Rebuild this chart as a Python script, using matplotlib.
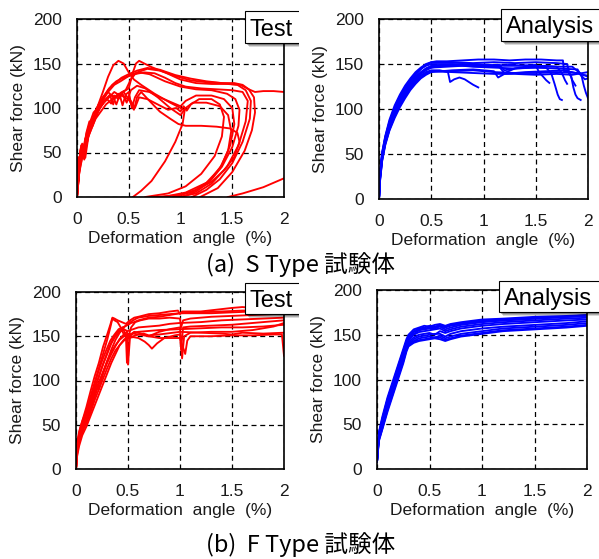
import matplotlib
matplotlib.use("Agg")
import matplotlib.pyplot as plt
from matplotlib.patches import Rectangle
from matplotlib.transforms import Bbox, TransformedBbox

plt.rcParams['font.family'] = ['Liberation Sans', 'DejaVu Sans']

x_ticks = [0, 0.5, 1, 1.5, 2]
x_tick_labels = ['0', '0.5', '1', '1.5', '2']
y_ticks = [0, 50, 100, 150, 200]

# S type, test results (x: deformation angle %, y: shear force kN)
s_test = [
    ([0, 0.01, 0.015, 0.03, 0.05, 0.06, 0.09, 0.12, 0.15, 0.2, 0.25, 0.3, 0.35, 0.4, 0.45, 0.5, 0.55, 0.62, 0.75, 0.9, 1.0, 1.04, 1.02, 0.95, 0.85, 0.72, 0.62, 0.54],
     [0, 30, 18, 52, 60, 48, 72, 85, 80, 102, 118, 135, 148, 153, 150, 140, 132, 126, 116, 106, 100, 97, 82, 62, 40, 18, 7, 0]),
    ([0, 0.02, 0.03, 0.04, 0.07, 0.08, 0.11, 0.15, 0.2, 0.26, 0.32, 0.38, 0.44, 0.5, 0.54, 0.57, 0.6, 0.65, 0.72, 0.85, 1.0, 1.15, 1.3, 1.45, 1.58, 1.66, 1.71, 1.72, 1.69, 1.62, 1.5, 1.36, 1.19],
     [0, 25, 40, 45, 58, 44, 68, 80, 95, 108, 115, 112, 118, 122, 140, 150, 153, 150, 146, 140, 132, 128, 127, 127, 126, 121, 112, 95, 75, 52, 28, 10, 0]),
    ([0, 0.02, 0.05, 0.07, 0.1, 0.13, 0.18, 0.23, 0.3, 0.36, 0.42, 0.5, 0.58, 0.68, 0.8, 0.95, 1.1, 1.25, 1.4, 1.55, 1.63, 1.68, 1.67, 1.6, 1.5, 1.38, 1.25, 1.11],
     [0, 35, 50, 42, 65, 78, 92, 105, 118, 126, 130, 136, 140, 144, 142, 136, 131, 129, 128, 126, 120, 108, 88, 62, 38, 20, 8, 0]),
    ([0, 0.02, 0.04, 0.06, 0.09, 0.12, 0.16, 0.2, 0.25, 0.3, 0.35, 0.38, 0.42, 0.47, 0.52, 0.56, 0.6, 0.7, 0.85, 1.0, 1.15, 1.3, 1.45, 1.53, 1.57, 1.56, 1.5, 1.4, 1.28, 1.15, 1.01],
     [0, 40, 55, 50, 70, 82, 95, 100, 112, 118, 112, 104, 117, 120, 132, 138, 140, 138, 130, 124, 121, 120, 116, 110, 98, 80, 56, 34, 17, 6, 0]),
    ([0, 0.02, 0.05, 0.08, 0.11, 0.14, 0.18, 0.22, 0.27, 0.32, 0.35, 0.37, 0.41, 0.44, 0.47, 0.5, 0.53, 0.56, 0.6, 0.7, 0.8, 0.92, 1.0, 1.05, 1.15, 1.3, 1.42, 1.5, 1.52, 1.48, 1.4, 1.28, 1.12, 0.93],
     [0, 28, 45, 60, 72, 85, 90, 100, 108, 114, 104, 112, 116, 103, 115, 118, 100, 112, 120, 118, 112, 106, 102, 108, 114, 114, 110, 100, 82, 58, 36, 18, 6, 0]),
    ([0, 0.03, 0.06, 0.1, 0.14, 0.19, 0.24, 0.29, 0.33, 0.36, 0.4, 0.44, 0.48, 0.52, 0.58, 0.66, 0.78, 0.9, 1.0, 1.05, 1.12, 1.25, 1.38, 1.46, 1.49, 1.46, 1.38, 1.25, 1.05, 0.83],
     [0, 38, 55, 68, 80, 95, 104, 110, 105, 114, 110, 116, 106, 120, 125, 122, 112, 100, 92, 100, 106, 106, 102, 92, 74, 52, 32, 16, 5, 0]),
    ([0, 0.02, 0.05, 0.08, 0.12, 0.16, 0.21, 0.26, 0.31, 0.36, 0.4, 0.45, 0.5, 0.55, 0.58, 0.62, 0.7, 0.8, 0.9, 0.98, 1.05, 1.2, 1.35, 1.48, 1.55, 1.57, 1.52, 1.42, 1.3, 1.15, 0.98, 0.74],
     [0, 30, 48, 62, 76, 88, 98, 106, 112, 118, 115, 118, 110, 98, 112, 118, 108, 96, 88, 82, 80, 80, 79, 77, 72, 62, 45, 30, 17, 8, 2, 0]),
    ([0, 0.02, 0.04, 0.07, 0.1, 0.14, 0.19, 0.25, 0.31, 0.37, 0.43, 0.5, 0.58, 0.68, 0.8, 0.95, 1.1, 1.25, 1.4, 1.52, 1.6, 1.66, 1.72, 1.8, 1.9, 2.0],
     [0, 32, 52, 48, 68, 84, 100, 112, 122, 128, 134, 138, 142, 145, 143, 137, 133, 130, 128, 128, 126, 121, 118, 119, 119, 118]),
    ([0, 0.02, 0.05, 0.09, 0.13, 0.18, 0.23, 0.28, 0.34, 0.4, 0.46, 0.52, 0.56, 0.6, 0.68, 0.78, 0.88, 0.96, 1.0, 1.03, 1.06, 1.1, 1.18, 1.3, 1.38, 1.42, 1.4, 1.33, 1.2, 1.05, 0.88, 0.66],
     [0, 26, 44, 62, 74, 88, 96, 104, 110, 116, 112, 108, 100, 112, 110, 104, 98, 100, 96, 102, 97, 104, 110, 110, 104, 90, 68, 46, 26, 12, 4, 0]),
    ([0, 0.01, 0.02, 0.04, 0.05, 0.08, 0.1, 0.13, 0.17, 0.21, 0.26, 0.3, 0.34, 0.38, 0.43, 0.48, 0.55, 0.65, 0.75, 0.85, 0.95, 1.05, 1.2, 1.35, 1.5, 1.6, 1.65, 1.63, 1.56, 1.45, 1.3, 1.15, 0.98],
     [0, 45, 30, 58, 46, 66, 62, 80, 92, 104, 112, 120, 126, 130, 133, 135, 138, 140, 139, 134, 128, 124, 122, 121, 120, 118, 108, 85, 58, 34, 15, 4, 0]),
    ([1.46, 1.6, 1.8, 2.0],
     [0, 4, 11, 21]),
]

# S type, analysis results
s_model = [
    ([0, 0.01, 0.03, 0.06, 0.1, 0.15, 0.2, 0.25, 0.3, 0.35, 0.4, 0.45, 0.5, 0.55, 0.65, 0.8, 0.95, 1.1, 1.25, 1.4, 1.55, 1.7, 1.76, 1.77, 1.85, 1.92, 1.97, 2.0],
     [0, 28, 50, 68, 85, 100, 112, 122, 131, 138, 144, 149, 152, 153, 153, 154, 155, 155, 154, 155, 155, 154, 154, 142, 141, 139, 133, 134]),
    ([0, 0.01, 0.03, 0.06, 0.1, 0.15, 0.2, 0.25, 0.3, 0.35, 0.4, 0.45, 0.5, 0.6, 0.75, 0.9, 1.05, 1.2, 1.35, 1.5, 1.53, 1.57, 1.6, 1.63],
     [0, 24, 46, 64, 80, 95, 107, 117, 126, 133, 139, 143, 146, 148, 149, 150, 149, 148, 148, 149, 141, 136, 132, 129]),
    ([0, 0.01, 0.03, 0.06, 0.1, 0.15, 0.2, 0.25, 0.3, 0.35, 0.4, 0.45, 0.5, 0.58, 0.66, 0.68, 0.72, 0.77, 0.82, 0.86, 0.9, 0.95],
     [0, 22, 44, 62, 78, 93, 105, 115, 124, 131, 137, 141, 143, 143, 141, 130, 133, 135, 133, 130, 127, 124]),
    ([0, 0.01, 0.03, 0.06, 0.1, 0.15, 0.2, 0.25, 0.3, 0.35, 0.4, 0.45, 0.5, 0.65, 0.8, 1.0, 1.15, 1.2, 1.3, 1.45, 1.6, 1.65, 1.68, 1.71, 1.73, 1.75],
     [0, 26, 48, 66, 82, 97, 109, 119, 128, 135, 140, 144, 146, 147, 148, 147, 147, 140, 145, 146, 146, 139, 128, 116, 111, 110]),
    ([0, 0.01, 0.03, 0.06, 0.1, 0.15, 0.2, 0.25, 0.3, 0.35, 0.4, 0.45, 0.5, 0.7, 0.9, 1.1, 1.14, 1.2, 1.4, 1.6, 1.8, 1.84, 1.86, 1.88, 1.9, 1.93],
     [0, 20, 42, 60, 76, 90, 102, 112, 121, 128, 134, 138, 141, 143, 144, 142, 135, 139, 141, 142, 143, 136, 124, 116, 112, 110]),
    ([0, 0.01, 0.03, 0.06, 0.1, 0.15, 0.2, 0.25, 0.3, 0.35, 0.4, 0.45, 0.5, 0.7, 0.9, 1.1, 1.3, 1.5, 1.7, 1.9, 1.94, 1.96, 1.98, 2.0],
     [0, 27, 49, 67, 84, 99, 110, 120, 129, 136, 141, 145, 148, 149, 147, 146, 145, 146, 145, 144, 136, 126, 118, 112]),
    ([0, 0.01, 0.03, 0.06, 0.1, 0.15, 0.2, 0.25, 0.3, 0.35, 0.4, 0.45, 0.5, 0.7, 0.9, 1.1, 1.3, 1.5, 1.7, 1.9, 2.0],
     [0, 21, 43, 61, 77, 92, 104, 114, 123, 130, 135, 139, 142, 142, 143, 141, 140, 140, 141, 140, 136]),
    ([0, 0.01, 0.03, 0.06, 0.1, 0.15, 0.2, 0.25, 0.3, 0.35, 0.4, 0.45, 0.5, 0.7, 0.9, 1.1, 1.3, 1.5, 1.7, 1.8, 1.82, 1.85, 1.88],
     [0, 30, 52, 70, 88, 104, 116, 126, 134, 141, 146, 150, 152, 152, 151, 152, 151, 152, 151, 150, 141, 132, 126]),
    ([0, 0.01, 0.03, 0.06, 0.1, 0.15, 0.2, 0.25, 0.3, 0.35, 0.4, 0.45, 0.5, 0.7, 0.9, 1.1, 1.3, 1.5, 1.7, 1.85, 1.95, 2.0],
     [0, 23, 45, 63, 79, 94, 106, 116, 125, 132, 137, 140, 142, 141, 140, 139, 139, 138, 139, 138, 140, 141]),
    ([0, 0.01, 0.03, 0.06, 0.1, 0.15, 0.2, 0.25, 0.3, 0.35, 0.4, 0.45, 0.5, 0.6, 0.8, 1.0, 1.15, 1.2, 1.4, 1.6, 1.7, 1.75, 1.78, 1.8],
     [0, 25, 47, 65, 81, 96, 108, 118, 127, 134, 140, 145, 147, 149, 150, 148, 149, 143, 147, 148, 147, 140, 132, 128]),
    ([0, 0.01, 0.03, 0.06, 0.1, 0.15, 0.2, 0.25, 0.3, 0.35, 0.4, 0.45, 0.5, 0.7, 0.9, 1.05, 1.25, 1.45, 1.65, 1.85, 1.9, 1.95, 2.0],
     [0, 29, 51, 69, 86, 102, 114, 124, 132, 139, 145, 148, 150, 150, 149, 148, 149, 148, 147, 147, 142, 138, 137]),
]

# F type, test results
f_test = [
    ([0, 0.01, 0.02, 0.04, 0.07, 0.1, 0.14, 0.18, 0.22, 0.26, 0.3, 0.33, 0.35, 0.37, 0.4, 0.44, 0.48, 0.52, 0.56, 0.6, 0.7, 0.8, 0.9, 0.98, 1.0, 1.02, 1.1, 1.2, 1.35, 1.5, 1.6, 1.7, 1.8, 1.9, 2.0],
     [0, 22, 35, 46, 58, 70, 88, 105, 120, 138, 152, 163, 171, 170, 168, 166, 164, 168, 171, 172, 175, 176, 178, 179, 175, 178, 178, 178, 180, 182, 183, 182, 182, 181, 180]),
    ([0, 0.01, 0.03, 0.05, 0.08, 0.12, 0.16, 0.2, 0.24, 0.28, 0.32, 0.36, 0.4, 0.45, 0.5, 0.53, 0.56, 0.6, 0.7, 0.8, 0.9, 1.0, 1.1, 1.3, 1.5, 1.7, 1.9, 2.0],
     [0, 18, 34, 44, 55, 70, 85, 98, 112, 125, 138, 148, 155, 160, 163, 165, 166, 168, 171, 172, 174, 176, 176, 176, 177, 178, 178, 178]),
    ([0, 0.01, 0.03, 0.06, 0.09, 0.13, 0.17, 0.21, 0.25, 0.29, 0.33, 0.37, 0.41, 0.45, 0.48, 0.49, 0.5, 0.53, 0.57, 0.62, 0.7, 0.8, 0.9, 1.0, 1.01, 1.03, 1.1, 1.3, 1.5, 1.7, 1.9, 2.0],
     [0, 25, 38, 50, 60, 75, 92, 108, 122, 134, 145, 152, 158, 160, 150, 120, 148, 160, 166, 168, 170, 170, 171, 170, 160, 168, 170, 172, 173, 174, 175, 175]),
    ([0, 0.01, 0.03, 0.06, 0.1, 0.14, 0.18, 0.22, 0.26, 0.3, 0.34, 0.38, 0.42, 0.46, 0.5, 0.55, 0.6, 0.7, 0.8, 0.9, 1.0, 1.01, 1.03, 1.1, 1.3, 1.5, 1.7, 1.9, 2.0],
     [0, 20, 32, 44, 56, 70, 84, 98, 110, 122, 132, 140, 146, 150, 152, 153, 152, 150, 155, 158, 160, 135, 160, 161, 162, 163, 165, 167, 168]),
    ([0, 0.01, 0.03, 0.06, 0.1, 0.14, 0.18, 0.22, 0.26, 0.3, 0.34, 0.38, 0.42, 0.46, 0.5, 0.55, 0.6, 0.66, 0.7, 0.73, 0.78, 0.85, 0.95, 1.0, 1.02, 1.04, 1.1, 1.3, 1.5, 1.7, 1.9, 2.0],
     [0, 16, 30, 42, 52, 64, 78, 90, 102, 114, 125, 134, 140, 145, 148, 149, 148, 144, 140, 136, 142, 148, 151, 152, 125, 150, 154, 155, 155, 157, 161, 165]),
    ([0, 0.01, 0.03, 0.06, 0.1, 0.14, 0.18, 0.22, 0.26, 0.3, 0.34, 0.38, 0.42, 0.46, 0.49, 0.5, 0.52, 0.56, 0.6, 0.7, 0.8, 0.9, 1.0, 1.05, 1.07, 1.1, 1.3, 1.5, 1.7, 1.9, 1.98, 2.0],
     [0, 24, 36, 48, 62, 76, 90, 104, 118, 130, 142, 150, 155, 158, 156, 118, 150, 155, 154, 150, 148, 148, 148, 130, 145, 150, 150, 151, 151, 152, 152, 128]),
    ([0, 0.01, 0.03, 0.06, 0.1, 0.14, 0.18, 0.22, 0.26, 0.3, 0.34, 0.38, 0.42, 0.46, 0.5, 0.55, 0.6, 0.7, 0.8, 1.0, 1.2, 1.4, 1.6, 1.8, 2.0],
     [0, 14, 26, 38, 48, 60, 72, 84, 96, 108, 120, 130, 140, 146, 150, 154, 155, 156, 157, 158, 159, 160, 160, 161, 163]),
    ([0, 0.01, 0.03, 0.06, 0.1, 0.14, 0.18, 0.22, 0.26, 0.3, 0.33, 0.35, 0.37, 0.4, 0.43, 0.46, 0.5, 0.55, 0.6, 0.65, 0.7, 0.8, 1.0, 1.2, 1.4, 1.5, 1.6, 1.8, 2.0],
     [0, 28, 42, 54, 66, 82, 98, 114, 130, 146, 160, 170, 168, 166, 160, 152, 148, 150, 152, 153, 151, 152, 155, 154, 153, 152, 154, 153, 154]),
    ([0, 0.01, 0.03, 0.06, 0.1, 0.14, 0.18, 0.2, 0.22, 0.26, 0.3, 0.34, 0.38, 0.42, 0.46, 0.5, 0.55, 0.58, 0.6, 0.7, 0.8, 0.9, 1.0, 1.2, 1.4, 1.6, 1.8, 2.0],
     [0, 22, 34, 45, 56, 72, 88, 96, 90, 108, 122, 135, 146, 154, 160, 164, 168, 170, 171, 173, 174, 175, 176, 177, 178, 179, 179, 179]),
    ([0, 0.01, 0.03, 0.06, 0.1, 0.14, 0.18, 0.22, 0.26, 0.3, 0.34, 0.38, 0.42, 0.46, 0.5, 0.55, 0.6, 0.7, 0.8, 0.9, 1.0, 1.2, 1.4, 1.6, 1.8, 2.0],
     [0, 20, 31, 42, 54, 67, 82, 96, 108, 120, 130, 139, 147, 152, 156, 158, 160, 161, 162, 164, 165, 166, 168, 169, 170, 171]),
]

# F type, analysis results
f_model_x = [0, 0.01, 0.02, 0.05, 0.1, 0.15, 0.2, 0.25, 0.28, 0.3, 0.35, 0.4, 0.45, 0.5, 0.55, 0.6, 0.65, 0.7, 0.8, 1.0, 1.2, 1.5, 1.8, 2.0]
f_model = [
    (f_model_x, [8, 30, 42, 58, 80, 98, 116, 134, 145, 150, 156, 158, 160, 159, 161, 162, 160, 162, 164, 167, 168, 170, 171, 172]),
    (f_model_x, [8, 28, 40, 55, 77, 95, 113, 131, 142, 147, 153, 156, 157, 158, 157, 160, 158, 160, 162, 165, 166, 168, 170, 171]),
    (f_model_x, [8, 26, 38, 52, 74, 92, 110, 128, 139, 144, 150, 153, 154, 155, 156, 157, 154, 156, 159, 162, 164, 166, 168, 169]),
    (f_model_x, [8, 25, 37, 50, 72, 90, 108, 126, 138, 142, 147, 150, 151, 152, 150, 154, 152, 154, 157, 160, 162, 164, 166, 167]),
    (f_model_x, [8, 24, 35, 48, 70, 88, 106, 124, 136, 140, 145, 148, 149, 150, 151, 151, 148, 151, 154, 157, 159, 161, 163, 165]),
    (f_model_x, [8, 23, 34, 46, 68, 86, 104, 122, 134, 139, 143, 146, 147, 148, 147, 149, 146, 148, 151, 154, 157, 159, 161, 163]),
    (f_model_x, [8, 22, 33, 45, 66, 84, 102, 120, 133, 138, 142, 144, 145, 146, 147, 147, 144, 146, 149, 152, 155, 157, 159, 161]),
    (f_model_x, [8, 27, 39, 53, 75, 93, 111, 129, 140, 145, 151, 155, 156, 157, 158, 159, 156, 158, 161, 164, 166, 168, 170, 172]),
    (f_model_x, [8, 29, 41, 56, 78, 96, 114, 132, 143, 148, 154, 157, 158, 160, 159, 161, 159, 161, 163, 166, 167, 169, 170, 171]),
    (f_model_x, [8, 21, 32, 44, 64, 82, 100, 118, 131, 137, 141, 143, 144, 145, 146, 145, 143, 145, 148, 151, 154, 156, 158, 160]),
]

W, H = 599, 559
fig = plt.figure(figsize=(W / 100, H / 100), dpi=100)


def px_axes(left, top, right, bottom):
    return fig.add_axes([left / W, 1 - bottom / H, (right - left) / W, (bottom - top) / H])


def draw_panel(ax, curves, color):
    for xs, ys in curves:
        ax.plot(xs, ys, color=color, lw=1.35)
    ax.set_xlim(0, 2)
    ax.set_ylim(0, 200)
    ax.set_xticks(x_ticks)
    ax.set_xticklabels(x_tick_labels)
    ax.set_yticks(y_ticks)
    ax.tick_params(length=0, labelsize=12.5, colors='#1a1a1a', pad=11)
    ax.grid(True, color='black', linestyle=(0, (4, 3)), linewidth=0.9)
    for sp in ax.spines.values():
        sp.set_color('black')
        sp.set_linewidth(1.2)
    ax.set_xlabel('Deformation  angle  (%)', fontsize=12.5, color='#1a1a1a', labelpad=3)
    ax.set_ylabel('Shear force (kN)', fontsize=12.5, color='#1a1a1a', labelpad=5)


def tag(label, left, top, bottom, clip_right):
    # white label box with a soft drop shadow, cut off at the panel edge
    clip = TransformedBbox(Bbox.from_extents(0, 0, clip_right / W, 1), fig.transFigure)
    width = clip_right + 20 - left
    height = bottom - top
    for off, a in [(4, 0.15), (3, 0.2), (2, 0.25)]:
        sh = Rectangle(((left + off) / W, 1 - (bottom + off) / H), width / W, height / H,
                       transform=fig.transFigure, facecolor='black', edgecolor='none', alpha=a)
        sh.set_clip_box(clip)
        fig.patches.append(sh)
    box = Rectangle((left / W, 1 - bottom / H), width / W, height / H,
                    transform=fig.transFigure, facecolor='white', edgecolor='black', linewidth=0.8)
    box.set_clip_box(clip)
    fig.patches.append(box)
    fig.text((left + 5) / W, 1 - (top + bottom) / 2 / H, label, fontsize=17,
             ha='left', va='center_baseline', color='black')


ax1 = px_axes(77, 19, 284, 197)
draw_panel(ax1, s_test, '#ff0000')
ax2 = px_axes(379, 19, 588, 199)
draw_panel(ax2, s_model, '#0000ff')
ax3 = px_axes(76, 292, 284, 469)
draw_panel(ax3, f_test, '#ff0000')
ax4 = px_axes(377, 290, 587, 469)
draw_panel(ax4, f_model, '#0000ff')

tag('Test', 245, 11, 43, 299)
tag('Analysis', 501, 9, 41, 599)
tag('Test', 245, 283, 314, 299)
tag('Analysis', 499, 281, 312, 599)

cap_font = ['Noto Sans CJK JP', 'DejaVu Sans']
fig.text(0.502, 1 - 265 / H, '(a)  S Type 試験体', fontsize=17, family=cap_font,
         ha='center', va='center')
fig.text(0.502, 1 - 545 / H, '(b)  F Type 試験体', fontsize=17, family=cap_font,
         ha='center', va='center')

fig.savefig('out.png', dpi=100)
